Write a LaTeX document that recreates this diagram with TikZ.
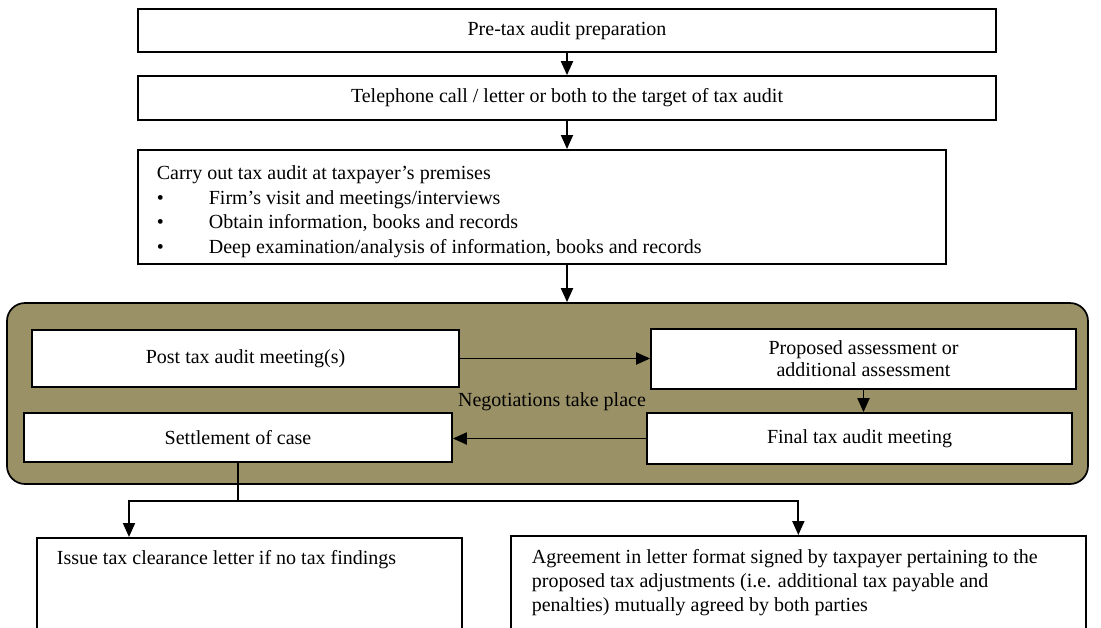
\documentclass[tikz,border=0pt]{standalone}
\usepackage{fontspec}
\setmainfont{Liberation Serif}
\usetikzlibrary{arrows.meta}
\definecolor{khaki}{RGB}{154,145,102}

\begin{document}
\begin{tikzpicture}[x=1pt, y=-1pt]
\tikzset{b/.style={draw=black, line width=1.7pt, fill=white, inner sep=0pt, font=\fontsize{20}{24}\selectfont},
f/.style={->, >={Triangle[length=14pt, width=12pt]}, line width=1.9pt},
t/.style={font=\fontsize{20}{24}\selectfont}};

\clip (0,0) rectangle (1101,627);

\node[b, minimum width=858pt, minimum height=43pt] (pre) at (567,30.5) {Pre-tax audit preparation};
\node[b, minimum width=858pt, minimum height=44pt] (call) at (567,98) {Telephone call / letter or both to the target of tax audit};
\node[b, anchor=north west, inner xsep=19pt, inner ysep=16pt] (audit) at (137,149) {\parbox[t][82pt][t]{770pt}{\fontsize{20}{24.5}\selectfont
Carry out tax audit at taxpayer's premises\\
\makebox[52pt][l]{\textbullet}Firm's visit and meetings/interviews\\
\makebox[52pt][l]{\textbullet}Obtain information, books and records\\
\makebox[52pt][l]{\textbullet}Deep examination/analysis of information, books and records}};

\node[draw=black, line width=1.7pt, fill=khaki, rounded corners=18pt, minimum width=1081pt, minimum height=181pt] (nego) at (547.5,393.5) {};

\node[b, minimum width=427pt, minimum height=57pt] (post) at (245.5,358.5) {Post tax audit meeting(s)};
\node[b, minimum width=425pt, minimum height=60pt, align=center, font=\fontsize{20}{22}\selectfont] (prop) at (863.5,359) {Proposed assessment or\\additional assessment};
\node[b, minimum width=428pt, minimum height=49pt] (settle) at (238,437.5) {Settlement of case};
\node[b, minimum width=425pt, minimum height=51pt] (final) at (859.5,438.5) {Final tax audit meeting};
\node[t] (negtxt) at (552,402) {Negotiations take place};

\node[b, anchor=north west, inner xsep=20pt, inner ysep=13pt] (issue) at (36,537) {\parbox[t][100pt][t]{385pt}{Issue tax clearance letter if no tax findings}};
\node[b, anchor=north west, inner xsep=21pt, inner ysep=14pt] (agree) at (510,535) {\parbox[t][100pt][t]{533pt}{Agreement in letter format signed by taxpayer pertaining to the\\
proposed tax adjustments (i.e. additional tax payable and\\
penalties) mutually agreed by both parties}};

\foreach \a/\b in {pre/call, call/audit, audit/nego} {
	\draw[f] (\a.south -| pre.south) -- (\b.north -| pre.south);
}

\draw[f] (post.east) -- (post.east -| prop.west);
\draw[f] (prop.south) -- (prop.south |- final.north);
\draw[f] (final.west) -- (final.west -| settle.east);

\coordinate (split) at (238,501);
\coordinate (ltip) at (129,537);
\draw[line width=1.1pt] (settle.south) -- (split);
\draw[f] (split) -| (ltip);
\draw[f] (split) -| (agree.north);

\end{tikzpicture}
\end{document}
